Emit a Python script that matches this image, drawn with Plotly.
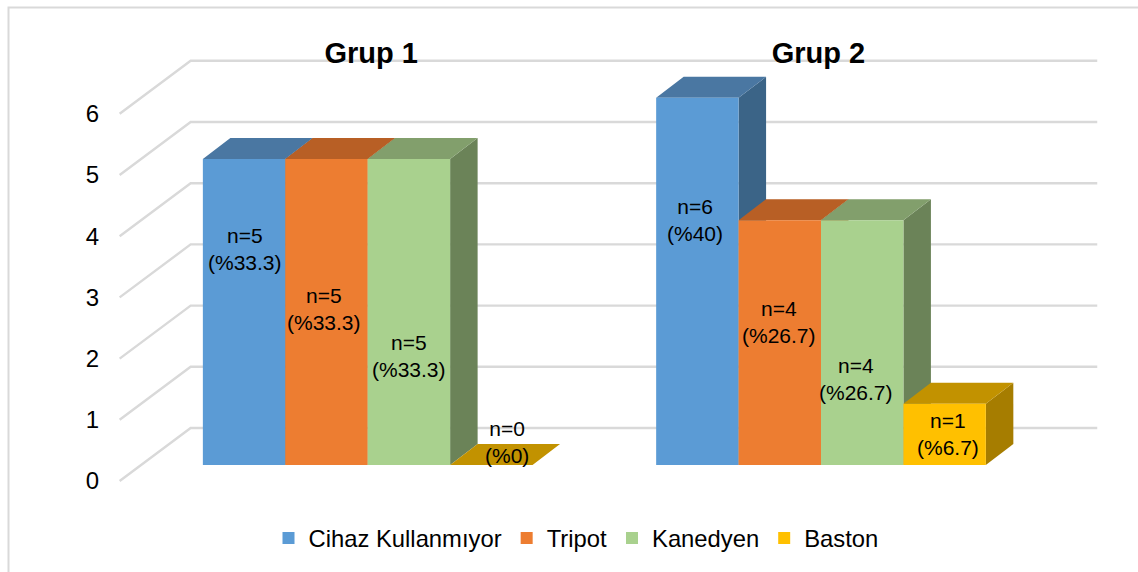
import plotly.graph_objects as go

categories = ["Grup 1", "Grup 2"]
series_names = ["Cihaz Kullanmıyor", "Tripot", "Kanedyen", "Baston"]
counts = {
    "Cihaz Kullanmıyor": [5, 6],
    "Tripot": [5, 4],
    "Kanedyen": [5, 4],
    "Baston": [0, 1],
}
percents = {
    "Cihaz Kullanmıyor": ["33.3", "40"],
    "Tripot": ["33.3", "26.7"],
    "Kanedyen": ["33.3", "26.7"],
    "Baston": ["0", "6.7"],
}
y_ticks = [0, 1, 2, 3, 4, 5, 6]

# styles
front = {"Cihaz Kullanmıyor": "#5B9BD5", "Tripot": "#ED7D31", "Kanedyen": "#A9D18E", "Baston": "#FFC000"}
top = {"Cihaz Kullanmıyor": "#4A77A2", "Tripot": "#B85F25", "Kanedyen": "#829F6C", "Baston": "#C29200"}
side = {"Cihaz Kullanmıyor": "#3B6487", "Tripot": "#9C5120", "Kanedyen": "#6B8358", "Baston": "#A67D00"}
label_shift = {
    "Cihaz Kullanmıyor": [(1, 63), (-2, 61)],
    "Tripot": [(-2, 3), (-1, 21)],
    "Kanedyen": [(0, -44), (-6, -36)],
    "Baston": [(16, 23), (3, 0)],
}
title_shift_px = [3.5, -2.5]

# layout geometry (pixels of the page)
W, H = 1138, 572
L, R, T, B = 100, 1128, 40, 512
CAT_PX = 453.3
CAT0_PX = 367.7
VAL_PX = 61.2
AXIS_ZERO_PX = 481
BAR_ZERO_PX = 465
GAP = 1.5 / 5.5
BW = (1 - GAP) / 4
WALL_DX, WALL_DV = 71 / CAT_PX, 53 / VAL_PX
BAR_DX, BAR_DV = 27.5 / CAT_PX, 21 / VAL_PX
WALL_X0 = -0.5 - 21.4 / CAT_PX
positions = list(range(len(categories)))

fig = go.Figure()

# wall + floor grid, on the visible value axis
gx, gy = [], []
for v in y_ticks:
    gx += [WALL_X0, WALL_X0 + WALL_DX, WALL_X0 + WALL_DX + 2, None]
    gy += [v, v + WALL_DV, v + WALL_DV, None]
fig.add_trace(go.Scatter(x=gx, y=gy, mode="lines", yaxis="y", showlegend=False, hoverinfo="skip",
                         line=dict(color="#D9D9D9", width=2.4), cliponaxis=False))

annotations = []
for s, name in enumerate(series_names):
    sx, sy, tx, ty = [], [], [], []
    for g in positions:
        v = counts[name][g]
        x0 = g + (s - 2) * BW
        x1 = x0 + BW
        tx += [x0, x1, x1 + BAR_DX, x0 + BAR_DX, x0, None]
        ty += [v, v, v + BAR_DV, v + BAR_DV, v, None]
        if v > 0:
            sx += [x1, x1 + BAR_DX, x1 + BAR_DX, x1, x1, None]
            sy += [0, BAR_DV, v + BAR_DV, v, 0, None]
        dx, dy = label_shift[name][g]
        annotations.append(dict(
            x=(x0 + x1) / 2, y=v / 2, xref="x", yref="y2", xshift=dx, yshift=dy,
            text=f"n={v}<br>(%{percents[name][g]})", showarrow=False,
            font=dict(size=21, color="#000000", family="Liberation Sans"),
        ))
    fig.add_trace(go.Scatter(x=sx, y=sy, mode="lines", fill="toself", fillcolor=side[name], yaxis="y2",
                             line=dict(width=0), showlegend=False, hoverinfo="skip",
                             cliponaxis=False, zorder=3 * s + 1))
    fig.add_trace(go.Scatter(x=tx, y=ty, mode="lines", fill="toself", fillcolor=top[name], yaxis="y2",
                             line=dict(width=0), showlegend=False, hoverinfo="skip",
                             cliponaxis=False, zorder=3 * s + 2))
    fig.add_trace(go.Bar(x=positions, y=counts[name], name=name, yaxis="y2",
                         marker=dict(color=front[name], line=dict(width=0)), zorder=3 * s + 3))

px_w = R - L
px_h = B - T
fig.update_layout(
    width=W, height=H, margin=dict(l=L, r=W - R, t=T, b=H - B, pad=0),
    paper_bgcolor="#FFFFFF", plot_bgcolor="rgba(0,0,0,0)",
    barmode="group", bargap=GAP, bargroupgap=0,
    font=dict(family="Liberation Sans", color="#000000"),
    xaxis=dict(side="top", ticklabelposition="inside",
               tickvals=[p + d / CAT_PX for p, d in zip(positions, title_shift_px)], ticktext=categories,
               range=[(L - CAT0_PX) / CAT_PX, (R - CAT0_PX) / CAT_PX],
               showgrid=False, zeroline=False, showline=False, ticks="",
               tickfont=dict(size=29, weight=700, color="#000000")),
    yaxis=dict(range=[(AXIS_ZERO_PX - B) / VAL_PX, (AXIS_ZERO_PX - T) / VAL_PX],
               tickvals=y_ticks, showgrid=False, zeroline=False, showline=False, ticks="",
               tickfont=dict(size=24, color="#000000")),
    yaxis2=dict(range=[(BAR_ZERO_PX - B) / VAL_PX, (BAR_ZERO_PX - T) / VAL_PX],
                overlaying="y", visible=False, showgrid=False, zeroline=False),
    legend=dict(orientation="h", x=(576 - L) / px_w, xanchor="center", y=(B - 538) / px_h, yanchor="middle",
                font=dict(size=23.8, color="#000000"), bgcolor="rgba(0,0,0,0)"),
    annotations=annotations,
    shapes=[dict(type="rect", xref="paper", yref="paper",
                 x0=(8.5 - L) / px_w, x1=(W + 20 - L) / px_w,
                 y0=(B - H - 20) / px_h, y1=(B - 7.5) / px_h,
                 line=dict(color="#D9D9D9", width=2), layer="below")],
    showlegend=True,
)

fig.write_html("out.html", config=dict(displayModeBar=False),
               post_script="document.body.style.margin='0';document.body.style.overflow='hidden';")
